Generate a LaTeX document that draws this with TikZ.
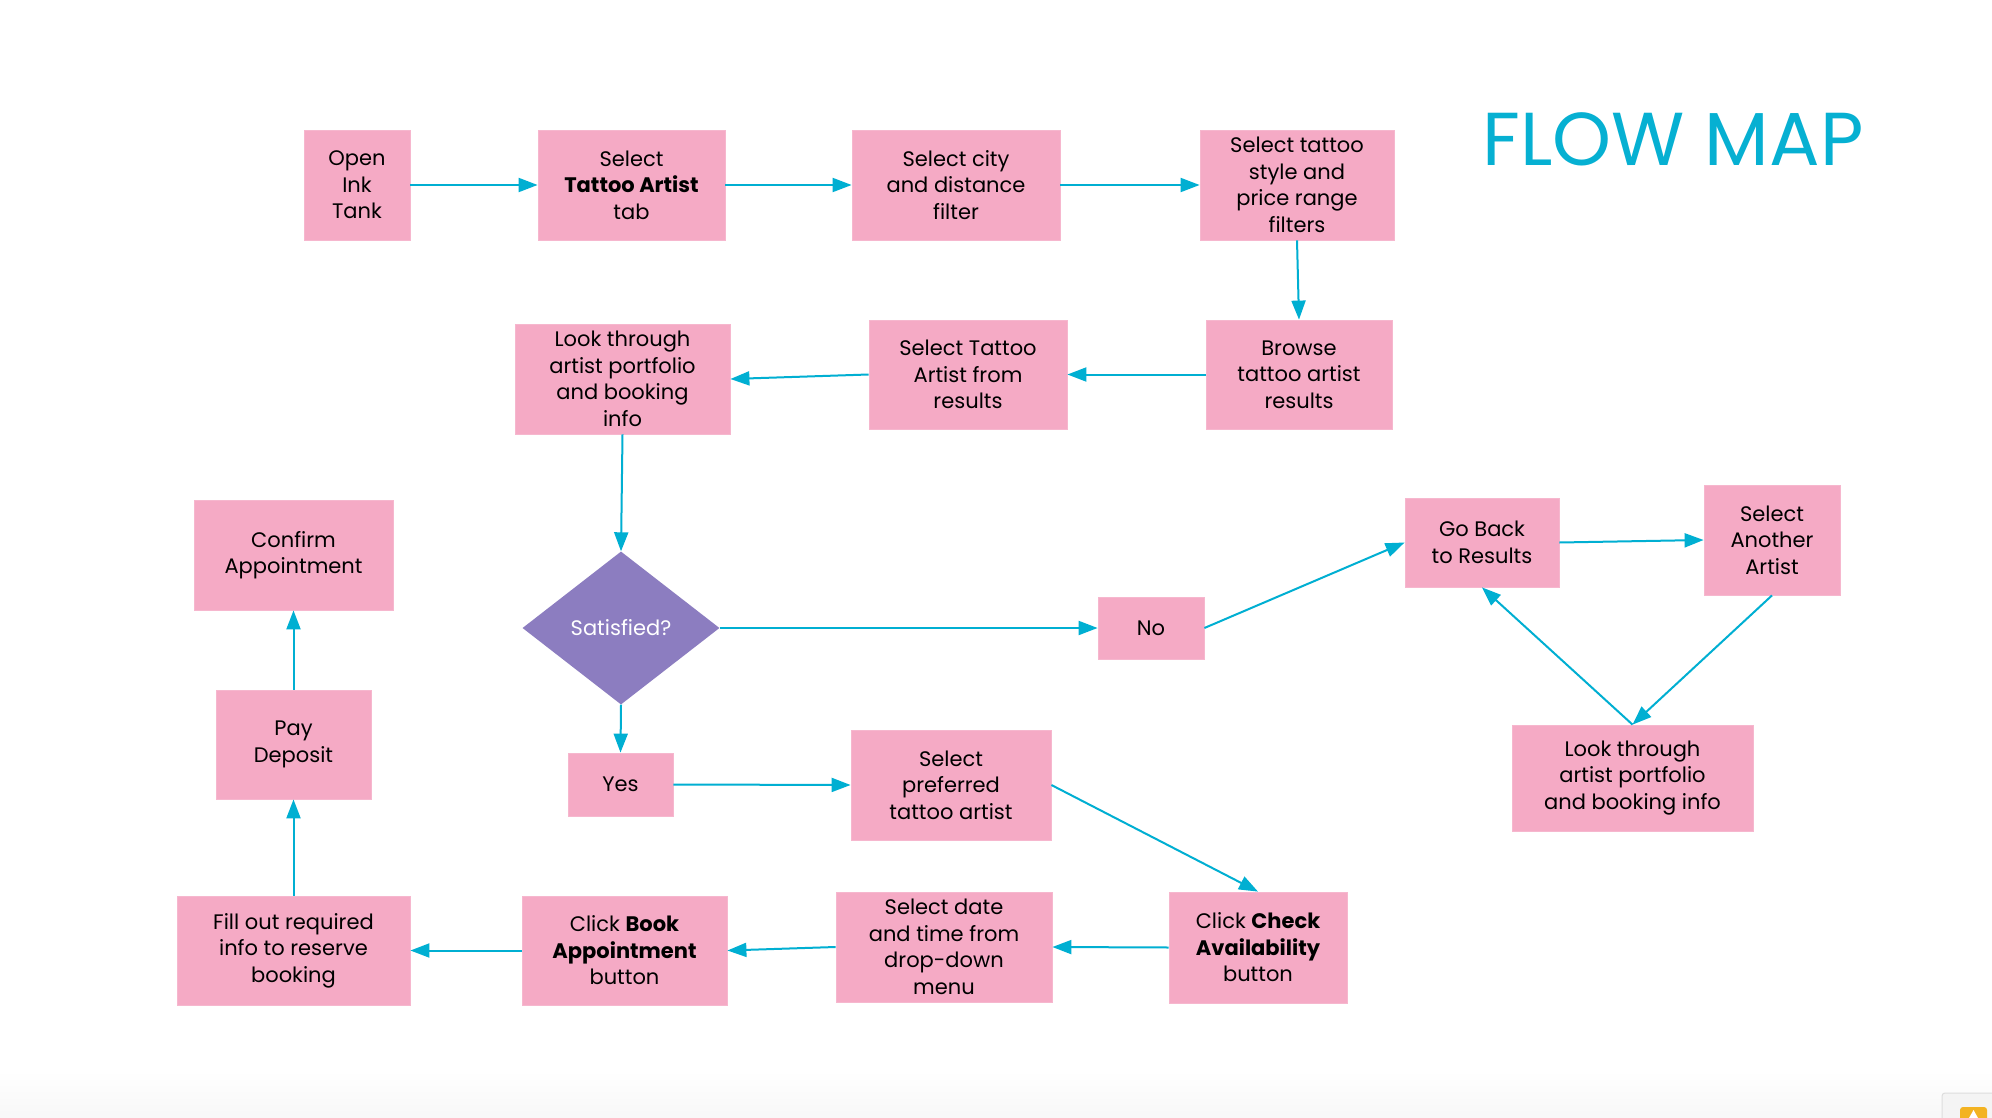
\documentclass[tikz,border=0pt]{standalone}
\usepackage{fontspec}
\setmainfont{Poppins}
\usetikzlibrary{arrows.meta,shapes.geometric}

\definecolor{boxpink}{HTML}{F5AAC5}
\definecolor{flowcyan}{HTML}{00AFD2}
\definecolor{decision}{HTML}{8C7DC0}
\definecolor{titlecyan}{HTML}{06B0D2}
\definecolor{panelgray}{HTML}{F4F4F4}
\definecolor{panelline}{HTML}{DDDDDD}
\definecolor{badge}{HTML}{F3B322}

\tikzset{
  stepbox/.style={fill=boxpink, draw=boxpink!85!white, line width=0.8pt,
    inner sep=0pt, align=center, text=black,
    font=\fontsize{21}{26.5}\selectfont},
  choice/.style={diamond, fill=decision, inner sep=0pt, text=white,
    font=\fontsize{21}{26.5}\selectfont},
  flow/.style={draw=flowcyan, line width=2pt,
    -{Triangle[length=19pt,width=14pt]}},
}

\begin{document}
\begin{tikzpicture}[x=1pt,y=-1pt]
  \useasboundingbox (0,0) rectangle (1992,1118);
  \fill[white] (0,0) rectangle (1992,1118);
  \shade[top color=white, bottom color=black!3] (0,1070) rectangle (1992,1118);

  % title
  \node[anchor=base, text=titlecyan, font=\fontsize{75}{75}\selectfont] (title)
    at (1673,166) {FLOW MAP};

  % first row
  \node[stepbox, minimum width=106, minimum height=110] (open) at (357,185)
    {Open\\Ink\\Tank};
  \node[stepbox, minimum width=187, minimum height=110] (tab) at (631.5,185)
    {Select\\\textbf{Tattoo Artist}\\tab};
  \node[stepbox, minimum width=208, minimum height=110] (city) at (956,185)
    {Select city\\and distance\\filter};
  \node[stepbox, minimum width=194, minimum height=110] (style) at (1297,185)
    {Select tattoo\\style and\\price range\\filters};

  % second row
  \node[stepbox, minimum width=186, minimum height=109] (browse) at (1299,374.5)
    {Browse\\tattoo artist\\results};
  \node[stepbox, minimum width=198, minimum height=109] (pick) at (968,374.5)
    {Select Tattoo\\Artist from\\results};
  \node[stepbox, minimum width=215, minimum height=110] (look) at (622.5,379)
    {Look through\\artist portfolio\\and booking\\info};

  % decision
  \node[choice, minimum width=197, minimum height=153] (sat) at (621,628)
    {Satisfied?};
  \node[stepbox, minimum width=106, minimum height=62] (no) at (1151,628) {No};
  \node[stepbox, minimum width=105, minimum height=63] (yes) at (620.5,784.5) {Yes};

  % retry loop
  \node[stepbox, minimum width=154, minimum height=89] (back) at (1482,542.5)
    {Go Back\\to Results};
  \node[stepbox, minimum width=136, minimum height=110] (another) at (1772,540)
    {Select\\Another\\Artist};
  \node[stepbox, minimum width=241, minimum height=106] (lookagain) at (1632.5,778)
    {Look through\\artist portfolio\\and booking info};

  % booking path
  \node[stepbox, minimum width=200, minimum height=110] (pref) at (951,785)
    {Select\\preferred\\tattoo artist};
  \node[stepbox, minimum width=178, minimum height=111] (check) at (1258,947.5)
    {Click \textbf{Check}\\\textbf{Availability}\\button};
  \node[stepbox, minimum width=216, minimum height=110] (date) at (944,947)
    {Select date\\and time from\\drop-down\\menu};
  \node[stepbox, minimum width=205, minimum height=109] (book) at (624.5,950.5)
    {Click \textbf{Book}\\\textbf{Appointment}\\button};
  \node[stepbox, minimum width=233, minimum height=109] (fill) at (293.5,950.5)
    {Fill out required\\info to reserve\\booking};
  \node[stepbox, minimum width=155, minimum height=109] (pay) at (293.5,744.5)
    {Pay\\Deposit};
  \node[stepbox, minimum width=199, minimum height=110] (confirm) at (293.5,555)
    {Confirm\\Appointment};

  % connectors
  \draw[flow] (open) -- (tab);
  \draw[flow] (tab) -- (city);
  \draw[flow] (city) -- (style);
  \draw[flow] (style.south) -- (browse.north);
  \draw[flow] (browse) -- (pick);
  \draw[flow] (pick.west) -- (look.east);
  \draw[flow] (look.south) -- (sat.north);
  \draw[flow] (sat.east) -- (no.west);
  \draw[flow] (no.east) -- (back.west);
  \draw[flow] (back.east) -- (another.west);
  \draw[flow] (another.south) -- (lookagain.north);
  \draw[flow] (lookagain.north) -- (back.south);
  \draw[flow] (sat.south) -- (yes.north);
  \draw[flow] (yes.east) -- (pref.west);
  \draw[flow] (pref.east) -- (check.north);
  \draw[flow] (check.west) -- (date.east);
  \draw[flow] (date.west) -- (book.east);
  \draw[flow] (book.west) -- (fill.east);
  \draw[flow] (fill.north) -- (pay.south);
  \draw[flow] (pay.north) -- (confirm.south);

  % small panel in the lower right corner
  \draw[panelline, fill=panelgray, rounded corners=3pt, line width=1pt]
    (1942,1093) rectangle (2000,1125);
  \fill[badge, rounded corners=3pt] (1960,1107) rectangle (1987,1125);
  \fill[white] (1973.5,1110) -- (1969,1118) -- (1978,1118) -- cycle;
\end{tikzpicture}
\end{document}
